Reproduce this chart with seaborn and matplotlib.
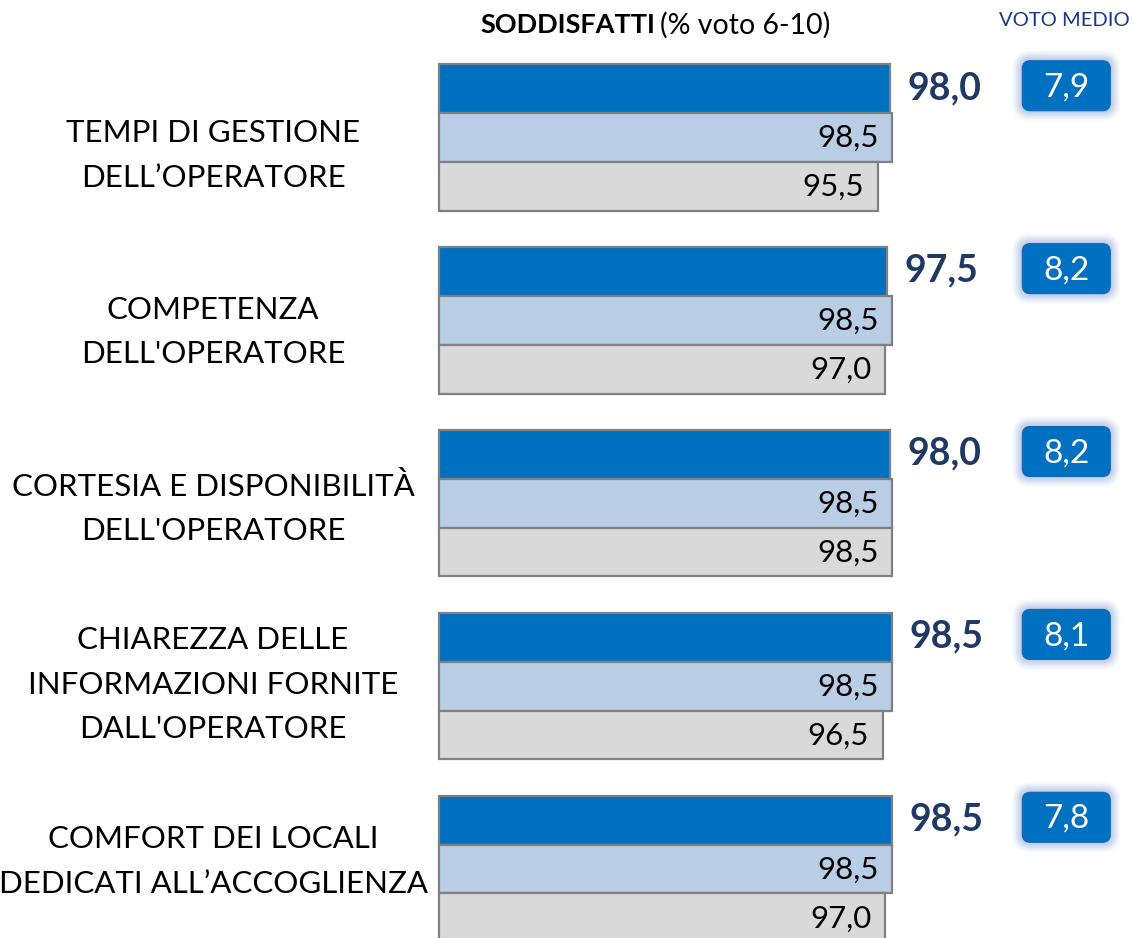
import numpy as np
import pandas as pd
import matplotlib
matplotlib.use("Agg")
import matplotlib.pyplot as plt
import matplotlib.transforms as mtransforms
from matplotlib.patches import FancyBboxPatch
import seaborn as sns

# ---- data ----
categories = [
    "TEMPI DI GESTIONE\nDELL’OPERATORE",
    "COMPETENZA\nDELL'OPERATORE",
    "CORTESIA E DISPONIBILITÀ\nDELL'OPERATORE",
    "CHIAREZZA DELLE\nINFORMAZIONI FORNITE\nDALL'OPERATORE",
    "COMFORT DEI LOCALI\nDEDICATI ALL’ACCOGLIENZA",
]
series = ["Attuale", "Precedente", "Storico"]
soddisfatti_attuale = [98.0, 97.5, 98.0, 98.5, 98.5]
soddisfatti_precedente = [98.5, 98.5, 98.5, 98.5, 98.5]
soddisfatti_storico = [95.5, 97.0, 98.5, 96.5, 97.0]
voto_medio = [7.9, 8.2, 8.2, 8.1, 7.8]

title_bold = "SODDISFATTI"
title_rest = "(% voto 6-10)"
voto_header = "VOTO MEDIO"

palette = ["#0070C0", "#B9CDE5", "#D9D9D9"]
edge_col = "#808080"
navy = "#1F3864"


def fmt(v):
    return f"{v:.1f}".replace(".", ",")


# ---- style ----
sns.set_theme(style="white")
plt.rcParams["font.family"] = ["Lato", "DejaVu Sans"]

W, H, DPI = 1134, 938, 100
fig = plt.figure(figsize=(W / DPI, H / DPI), dpi=DPI)

# axes frame (pixel geometry of the plotting area)
left_px, right_px = 438.7, 1134.0
top_px, bottom_px = 46.05, 960.55
ax = fig.add_axes([left_px / W, 1 - bottom_px / H,
                   (right_px - left_px) / W, (bottom_px - top_px) / H])

df = pd.DataFrame({
    "categoria": categories * 3,
    "serie": np.repeat(series, len(categories)),
    "valore": soddisfatti_attuale + soddisfatti_precedente + soddisfatti_storico,
})

sns.barplot(data=df, y="categoria", x="valore", hue="serie", orient="h",
            palette=palette, saturation=1, edgecolor=edge_col, linewidth=1.6,
            width=0.8, legend=False, ax=ax)

# truncated value axis: bars start at the left edge of the plot area
x0 = 5.36
px_per_unit = 4.87
x1 = x0 + (right_px - left_px) / px_per_unit
ax.set_xlim(x0, x1)
ax.set_ylim(len(categories) - 0.5, -0.5)

for cont in ax.containers:
    for bar in cont:
        right = bar.get_x() + bar.get_width()
        bar.set_x(x0)
        bar.set_width(right - x0)
        bar.set_clip_on(False)

for s in ax.spines.values():
    s.set_visible(False)
ax.set_xticks([])
ax.set_xlabel("")
ax.set_ylabel("")

# category labels, centred in the left margin
ticks = [i * 0.9645 + 0.04 for i in range(len(categories))]
ax.set_yticks(ticks)
ax.set_yticklabels(categories, ha="center", fontsize=22.5, linespacing=1.72,
                   color="black")
ax.tick_params(axis="y", length=0, pad=(left_px - 213) * 0.72)

# value labels
for bar, v in zip(ax.containers[0], soddisfatti_attuale):
    yc = bar.get_y() + bar.get_height() / 2
    ax.annotate(fmt(v), xy=(v, yc), xytext=(12.5, 0.5), textcoords="offset points",
                ha="left", va="center", fontsize=27, fontweight="bold", color=navy,
                annotation_clip=False)

for cont, vals in zip(ax.containers[1:], [soddisfatti_precedente, soddisfatti_storico]):
    for bar, v in zip(cont, vals):
        yc = bar.get_y() + bar.get_height() / 2
        ax.annotate(fmt(v), xy=(v, yc), xytext=(-9.5, -0.5), textcoords="offset points",
                    ha="right", va="center", fontsize=22.5, color="black",
                    annotation_clip=False)

# average-score badges
blended = mtransforms.blended_transform_factory(ax.transAxes, ax.transData)
bx = (1066.3 - left_px) / (right_px - left_px)
bw, bh, rr, lift = 0.88, 0.50, 0.08, 0.03
for bar, v in zip(ax.containers[0], voto_medio):
    yc = bar.get_y() + bar.get_height() / 2
    tr = fig.dpi_scale_trans + mtransforms.ScaledTranslation(bx, yc, blended)
    for grow, alpha in [(0.10, 0.12), (0.08, 0.18), (0.06, 0.25), (0.04, 0.35), (0.02, 0.5)]:
        ax.add_patch(FancyBboxPatch(
            (-bw / 2 - grow, -bh / 2 + lift - grow), bw + 2 * grow, bh + 2 * grow,
            boxstyle=f"round,pad=0,rounding_size={rr + grow}",
            fc="#B4C6E7", ec="none", alpha=alpha, transform=tr, clip_on=False))
    ax.add_patch(FancyBboxPatch(
        (-bw / 2, -bh / 2 + lift), bw, bh,
        boxstyle=f"round,pad=0,rounding_size={rr}",
        fc="#0070C0", ec="#1566B0", lw=0.8, transform=tr, clip_on=False))
    ax.annotate(fmt(v), xy=(bx, yc), xycoords=blended, xytext=(0, 1.0),
                textcoords="offset points", ha="center", va="center",
                fontsize=24, color="white", annotation_clip=False)

# headers
fig.text(655 / W, 1 - 25 / H, title_bold, ha="right", va="center",
         fontsize=19.5, fontweight="bold", color="black")
fig.text(660 / W, 1 - 25 / H, title_rest, ha="left", va="center",
         fontsize=20.5, color="black")
fig.text(1064 / W, 1 - 20 / H, voto_header, ha="center", va="center",
         fontsize=14.5, color="#1A3A86")

fig.savefig("out.png", dpi=DPI)
